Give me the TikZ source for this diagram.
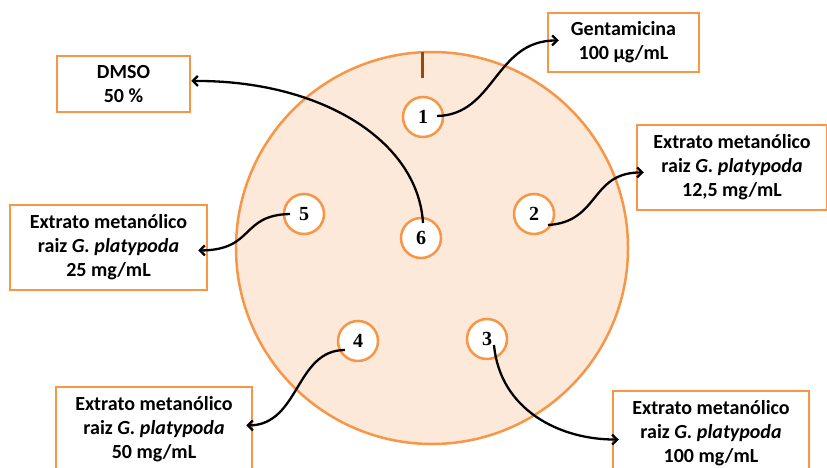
\documentclass[tikz,border=0pt]{standalone}
\usepackage{fontspec}
\setmainfont{Carlito}
\newfontfamily\ziffer{Liberation Serif}
\usepackage{tikz}
\usetikzlibrary{arrows.meta,positioning,calc}
\definecolor{laranja}{HTML}{F79646}
\definecolor{pele}{HTML}{FDE9D9}
\definecolor{marrom}{HTML}{984807}
\tikzset{
  caixa/.style={draw=laranja,line width=2.5pt,fill=white,align=center,inner sep=2pt,
    font=\fontsize{20}{24}\selectfont\bfseries},
  poco/.style={circle,draw=laranja,line width=2.5pt,fill=white,minimum size=40pt,inner sep=0pt,
    font=\fontsize{20}{20}\selectfont\ziffer\bfseries},
  seta/.style={line width=2.3pt,-{Straight Barb[length=5pt,width=10pt]}}
}
\begin{document}
\begin{tikzpicture}[x=1pt,y=-1pt]
\useasboundingbox (0,0) rectangle (827,468);
%Placa
\pgfmathsetmacro{\Raio}{196}
\draw[laranja,line width=2.5pt,fill=pele] (432,248) circle (\Raio);
\draw[marrom,line width=3pt] (422,52) -- (422,78);
%Pocos
\foreach \n/\x/\y in {1/423/117,2/534/214,3/487/339,4/358/341,5/304/214,6/421/238}{
  \node[poco] (c\n) at (\x,\y) {\n};
}
%Caixas
\node[caixa,minimum width=151pt,minimum height=59pt] (gent) at (623.5,42.5) {Gentamicina\\100 µg/mL};
\node[caixa,minimum width=133pt,minimum height=56pt] (dmso) at (123.5,84) {DMSO\\50 \%};
\node[caixa,minimum width=190pt,minimum height=85pt] (ext2) at (732,167.5) {Extrato metanólico\\raiz \textit{G. platypoda}\\12,5 mg/mL};
\node[caixa,minimum width=197pt,minimum height=85pt] (ext5) at (108.5,247.5) {Extrato metanólico\\raiz \textit{G. platypoda}\\25 mg/mL};
\node[caixa,minimum width=196pt,minimum height=85pt] (ext4) at (154,429.5) {Extrato metanólico\\raiz \textit{G. platypoda}\\50 mg/mL};
\node[caixa,minimum width=196pt,minimum height=85pt] (ext3) at (711,433.5) {Extrato metanólico\\raiz \textit{G. platypoda}\\100 mg/mL};
%Setas
\draw[seta] ($(c1.center)+(14,-1)$) .. controls (495,115) and (495,40) .. ($(gent.west)+(12,-2)$);
\draw[seta] ($(c6.center)+(2,-15)$) .. controls (418,140) and (320,80) .. ($(dmso.east)+(0,-3)$);
\draw[seta] ($(c2.center)+(14,11)$) .. controls (600,222) and (590,172) .. ($(ext2.west)+(8,5)$);
\draw[seta] ($(c5.center)+(-14,0)$) .. controls (240,215) and (255,250) .. ($(ext5.east)+(-10,3)$);
\draw[seta] ($(c4.center)+(-13,9)$) .. controls (295,350) and (300,425) .. ($(ext4.east)+(-7,-4)$);
\draw[seta] ($(c3.center)+(7,6)$) .. controls (500,410) and (560,440) .. ($(ext3.west)+(7,6)$);
\end{tikzpicture}
\end{document}
